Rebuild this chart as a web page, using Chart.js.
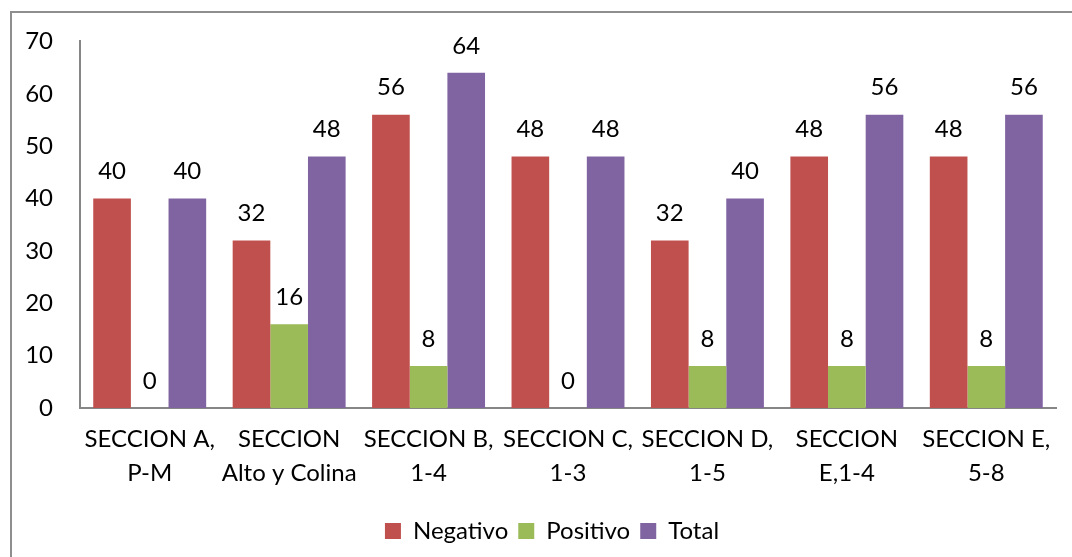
<!DOCTYPE html>
<html>
<head>
<meta charset="utf-8">
<script src="https://cdn.jsdelivr.net/npm/chart.js@4/dist/chart.umd.min.js"></script>
<style>
  html, body { margin: 0; padding: 0; background: #fff; }
  #wrap { position: relative; width: 1072px; height: 557px; overflow: hidden; }
  #frame { position: absolute; left: 10px; top: 11px; width: 1100px; height: 600px;
           border-left: 2px solid #8e8e8e; border-top: 2px solid #8e8e8e; }
  canvas { position: absolute; left: 0; top: 0; }
</style>
</head>
<body>
<div id="wrap">
  <div id="frame"></div>
  <canvas id="canvas" width="1072" height="557"></canvas>
</div>
<script>
var categories = [
  ["SECCION A,", "P-M"],
  ["SECCION", "Alto y Colina"],
  ["SECCION B,", "1-4"],
  ["SECCION C,", "1-3"],
  ["SECCION D,", "1-5"],
  ["SECCION", "E,1-4"],
  ["SECCION E,", "5-8"]
];
var negativo = [40, 32, 56, 48, 32, 48, 48];
var positivo = [0, 16, 8, 0, 8, 8, 8];
var total = [40, 48, 64, 48, 40, 56, 56];
var yTicks = [0, 10, 20, 30, 40, 50, 60, 70];

var FONT = "Lato";

// value labels above every bar
var barLabels = {
  id: 'barLabels',
  afterLayout: function(chart) {
    // legend sits centred under the plot, not the whole canvas
    chart.legend.left += 24;
    chart.legend.right += 24;
  },
  afterDatasetsDraw: function(chart) {
    var ctx = chart.ctx;
    ctx.save();
    ctx.font = "24px " + FONT;
    ctx.fillStyle = "#000";
    ctx.textAlign = "center";
    ctx.textBaseline = "middle";
    chart.data.datasets.forEach(function(ds, i) {
      chart.getDatasetMeta(i).data.forEach(function(bar, j) {
        ctx.fillText(ds.data[j], bar.x, bar.y - 27);
      });
    });
    ctx.restore();
  }
};

var ctx = document.getElementById("canvas").getContext("2d");
var myChart = new Chart(ctx, {
  type: 'bar',
  data: {
    labels: categories,
    datasets: [
      { label: "Negativo", data: negativo, backgroundColor: "#C0504D" },
      { label: "Positivo", data: positivo, backgroundColor: "#9BBB59" },
      { label: "Total", data: total, backgroundColor: "#8064A2" }
    ]
  },
  options: {
    responsive: false,
    animation: false,
    categoryPercentage: 0.81,
    barPercentage: 1,
    layout: { padding: { left: 0, right: 16, top: 41, bottom: 4 } },
    plugins: {
      tooltip: { enabled: false },
      legend: {
        position: 'bottom',
        labels: {
          font: { family: FONT, size: 24 },
          color: "#000",
          boxWidth: 16,
          boxHeight: 16,
          padding: 10
        }
      }
    },
    scales: {
      x: {
        afterFit: function(s) { s.height = 101; },
        grid: { display: false, drawTicks: false },
        border: { color: "#868686", width: 2 },
        ticks: {
          color: "#000",
          font: { family: FONT, size: 24, lineHeight: 34 / 24 },
          padding: 14,
          maxRotation: 0,
          autoSkip: false
        }
      },
      y: {
        min: 0,
        max: 70,
        afterFit: function(s) { s.width = 80; },
        afterBuildTicks: function(s) { s.ticks = yTicks.map(function(v) { return { value: v }; }); },
        grid: { display: false, drawTicks: false },
        border: { color: "#868686", width: 2 },
        ticks: {
          color: "#000",
          font: { family: FONT, size: 24 },
          padding: 27
        }
      }
    }
  },
  plugins: [barLabels]
});
</script>
</body>
</html>
